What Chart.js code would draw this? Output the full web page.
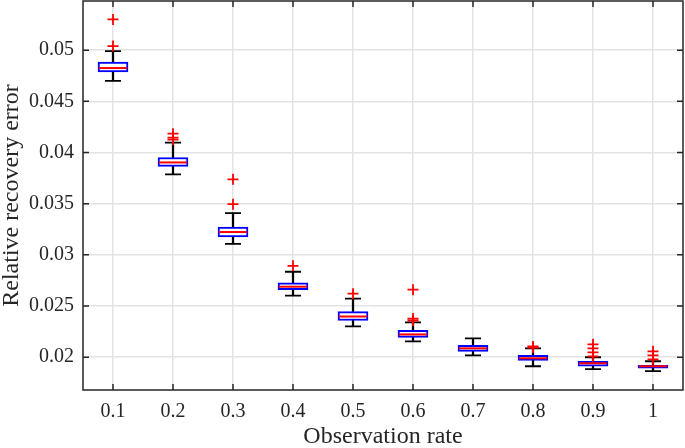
<!DOCTYPE html>
<html lang="en">
<head>
  <meta charset="UTF-8">
  <title>Relative recovery error</title>
  <script src="https://cdn.jsdelivr.net/npm/chart.js"></script>
  <style>
    html, body { margin: 0; padding: 0; background: #fff; }
    .wrap { width: 685px; height: 448px; }
  </style>
</head>
<body>
<div class="wrap"><canvas class="chart" width="685" height="448"></canvas></div>

<script>
  // categories
  const rates = ['0.1', '0.2', '0.3', '0.4', '0.5', '0.6', '0.7', '0.8', '0.9', '1'];

  // box plot statistics per rate
  const whiskerLow  = [0.0470, 0.03786, 0.03107, 0.02602, 0.02301, 0.02155, 0.02019, 0.01912, 0.01883, 0.01864];
  const q1          = [0.04786, 0.03864, 0.03175, 0.0266, 0.02359, 0.02194, 0.02058, 0.0197, 0.01912, 0.01893];
  const medians     = [0.04825, 0.03903, 0.03223, 0.02689, 0.02398, 0.02223, 0.02087, 0.0199, 0.01941, 0.01912];
  const q3          = [0.04883, 0.03951, 0.03272, 0.02728, 0.02446, 0.02262, 0.02116, 0.02019, 0.01961, 0.01922];
  const whiskerHigh = [0.0499, 0.04097, 0.03408, 0.02835, 0.02573, 0.0234, 0.02184, 0.02087, 0.0200, 0.01961];
  const outliers = [
    [0.0530, 0.0504],
    [0.04184, 0.04145, 0.04126],
    [0.03738, 0.03495],
    [0.02893],
    [0.02621],
    [0.0266, 0.02378, 0.02359],
    [],
    [0.02106, 0.02095],
    [0.02126, 0.02087, 0.02048, 0.02009],
    [0.02058, 0.02019, 0.0198]
  ];

  // y axis
  const yTicks = [0.02, 0.025, 0.03, 0.035, 0.04, 0.045, 0.05];
  const yMin = 0.0168;
  const yMax = 0.0548;

  const axisColor = '#262626';
  const fontFamily = '"Liberation Serif", "Times New Roman", serif';

  // рамка и внутренние риски как в MATLAB
  const frameTicks = {
    id: 'frameTicks',
    afterDraw(chart) {
      const { ctx, chartArea: a, scales } = chart;
      ctx.save();
      ctx.strokeStyle = axisColor;
      ctx.lineWidth = 1.5;
      ctx.strokeRect(a.left, a.top, a.right - a.left, a.bottom - a.top);
      ctx.beginPath();
      scales.x.ticks.forEach((t, i) => {
        const x = scales.x.getPixelForTick(i);
        ctx.moveTo(x, a.bottom); ctx.lineTo(x, a.bottom - 6);
        ctx.moveTo(x, a.top); ctx.lineTo(x, a.top + 6);
      });
      scales.y.ticks.forEach((t, i) => {
        const y = scales.y.getPixelForTick(i);
        ctx.moveTo(a.left, y); ctx.lineTo(a.left + 6, y);
        ctx.moveTo(a.right, y); ctx.lineTo(a.right - 6, y);
      });
      ctx.stroke();
      ctx.restore();
    }
  };

  const outlierPoints = [];
  outliers.forEach((vals, i) => vals.forEach(v => outlierPoints.push({ x: rates[i], y: v })));

  const ctx = document.querySelector('.chart').getContext('2d');
  new Chart(ctx, {
    data: {
      labels: rates,
      datasets: [
        {
          type: 'bar',
          data: rates.map((r, i) => [whiskerLow[i], whiskerHigh[i]]),
          backgroundColor: '#000',
          borderWidth: 0,
          barThickness: 1.6,
          grouped: false,
          order: 5
        },
        {
          type: 'bar',
          data: rates.map((r, i) => [q1[i], q3[i]]),
          backgroundColor: '#fff',
          borderColor: '#0000ff',
          borderWidth: 2,
          borderSkipped: false,
          barThickness: 30,
          grouped: false,
          order: 4
        },
        {
          type: 'line',
          data: whiskerLow,
          showLine: false,
          pointStyle: 'line',
          pointRadius: 8,
          borderColor: '#000',
          borderWidth: 1.8,
          order: 3
        },
        {
          type: 'line',
          data: whiskerHigh,
          showLine: false,
          pointStyle: 'line',
          pointRadius: 8,
          borderColor: '#000',
          borderWidth: 1.8,
          order: 3
        },
        {
          type: 'line',
          data: medians,
          showLine: false,
          pointStyle: 'line',
          pointRadius: 14,
          borderColor: '#ff0000',
          borderWidth: 2,
          order: 2
        },
        {
          type: 'line',
          data: outlierPoints,
          showLine: false,
          pointStyle: 'cross',
          pointRadius: 5.5,
          borderColor: '#ff0000',
          borderWidth: 1.8,
          order: 1
        }
      ]
    },
    options: {
      responsive: false,
      animation: false,
      layout: { autoPadding: false, padding: { top: 1, right: 2, left: 0, bottom: 0 } },
      plugins: { legend: { display: false }, tooltip: { enabled: false } },
      scales: {
        x: {
          type: 'category',
          offset: true,
          grid: { offset: false, color: '#e3e3e3', lineWidth: 1.5, drawTicks: false },
          border: { display: false },
          ticks: { color: axisColor, font: { family: fontFamily, size: 20 }, padding: 10, maxRotation: 0 },
          title: {
            display: true, text: 'Observation rate', color: axisColor,
            font: { family: fontFamily, size: 24, lineHeight: 0.9 }, padding: { top: 0, bottom: 0 }
          },
          afterFit(scale) {
            scale.height = 58;
            scale.paddingLeft = 0;
            scale.paddingRight = 0;
          }
        },
        y: {
          type: 'linear',
          min: yMin,
          max: yMax,
          afterBuildTicks(scale) { scale.ticks = yTicks.map(v => ({ value: v })); },
          grid: { color: '#e3e3e3', lineWidth: 1.5, drawTicks: false },
          border: { display: false },
          ticks: {
            color: axisColor, font: { family: fontFamily, size: 20 }, padding: 9,
            callback: v => String(v)
          },
          title: {
            display: true, text: 'Relative recovery error', color: axisColor,
            font: { family: fontFamily, size: 24, lineHeight: 1 }, padding: { top: 0, bottom: 0 }
          },
          afterFit(scale) {
            scale.width = 83;
            scale.paddingTop = 0;
            scale.paddingBottom = 0;
          }
        }
      }
    },
    plugins: [frameTicks]
  });
</script>
</body>
</html>
